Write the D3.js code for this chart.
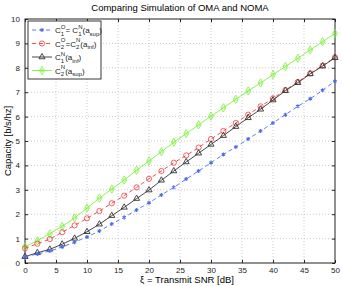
<!DOCTYPE html>
<html>
<head>
<meta charset="utf-8">
<script src="https://cdn.jsdelivr.net/npm/d3@7"></script>
<style>
  body { margin: 0; background: #fff; }
  text { font-family: "Liberation Sans", Arial, sans-serif; }
</style>
</head>
<body>
<div id="chart"></div>
<script>
// transmit SNR in dB
var snr = [0,2,4,6,8,10,12,14,16,18,20,22,24,26,28,30,32,34,36,38,40,42,44,46,48,50];

// capacity values
var c1OMA = [0.26,0.37,0.49,0.66,0.85,1.07,1.31,1.6,1.87,2.17,2.47,2.79,3.1,3.44,3.77,4.11,4.45,4.75,5.08,5.41,5.74,6.08,6.42,6.73,7.08,7.45];
var c2OMA = [0.6,0.79,0.98,1.26,1.54,1.83,2.13,2.45,2.76,3.1,3.45,3.77,4.11,4.41,4.73,5.08,5.41,5.74,6.08,6.42,6.75,7.09,7.42,7.77,8.09,8.43];
var c1Inf = [0.26,0.42,0.56,0.77,1.01,1.28,1.59,1.94,2.28,2.64,2.99,3.39,3.77,4.14,4.5,4.86,5.22,5.59,5.95,6.3,6.68,7.06,7.39,7.75,8.07,8.41];
var c2Sup = [0.67,0.91,1.2,1.5,1.85,2.25,2.66,3.03,3.4,3.8,4.18,4.56,4.95,5.3,5.66,6.02,6.36,6.71,7.05,7.38,7.72,8.05,8.39,8.73,9.07,9.41];

var xTicks = [0,5,10,15,20,25,30,35,40,45,50];
var yTicks = [0,1,2,3,4,5,6,7,8,9,10];

var margin = {top: 19, right: 7, bottom: 23, left: 25},
    width = 342 - margin.left - margin.right,
    height = 286 - margin.top - margin.bottom;

var svg = d3.select("#chart")
  .append("svg")
    .attr("width", 342)
    .attr("height", 286);

var plot = svg.append("g")
    .attr("transform", "translate(" + margin.left + "," + margin.top + ")");

var x = d3.scaleLinear().domain([0, 50]).range([0, width]);
var y = d3.scaleLinear().domain([0, 10]).range([height, 0]);

// dotted grid
plot.append("g")
  .selectAll("line")
  .data(xTicks.slice(1, -1))
  .enter().append("line")
    .attr("x1", function(d) { return x(d); })
    .attr("x2", function(d) { return x(d); })
    .attr("y1", 0).attr("y2", height)
    .attr("stroke", "#bbb").attr("stroke-width", 0.8)
    .attr("stroke-dasharray", "1,2");
plot.append("g")
  .selectAll("line")
  .data(yTicks.slice(1, -1))
  .enter().append("line")
    .attr("y1", function(d) { return y(d); })
    .attr("y2", function(d) { return y(d); })
    .attr("x1", 0).attr("x2", width)
    .attr("stroke", "#bbb").attr("stroke-width", 0.8)
    .attr("stroke-dasharray", "1,2");

// axes with inward ticks
function styleAxis(g) {
  g.selectAll("text").style("font-size", "8px").attr("fill", "#222");
  g.selectAll(".tick line").attr("stroke", "#222");
  g.select(".domain").remove();
}
plot.append("g")
  .attr("transform", "translate(0," + height + ")")
  .call(d3.axisBottom(x).tickValues(xTicks).tickSizeInner(-3).tickSizeOuter(0).tickPadding(4))
  .call(styleAxis);
plot.append("g")
  .call(d3.axisTop(x).tickValues(xTicks).tickSizeInner(-3).tickSizeOuter(0).tickFormat(""))
  .call(styleAxis);
plot.append("g")
  .call(d3.axisLeft(y).tickValues(yTicks).tickSizeInner(-3).tickSizeOuter(0).tickPadding(5))
  .call(styleAxis);
plot.append("g")
  .attr("transform", "translate(" + width + ",0)")
  .call(d3.axisRight(y).tickValues(yTicks).tickSizeInner(-3).tickSizeOuter(0).tickFormat(""))
  .call(styleAxis);

plot.append("rect")
  .attr("width", width).attr("height", height)
  .attr("fill", "none").attr("stroke", "#222").attr("stroke-width", 1);

var series = [
  {values: c2Sup, color: "#7cf03a", dash: null, marker: "diamond"},
  {values: c2OMA, color: "#f03c3c", dash: "4,3", marker: "circle"},
  {values: c1Inf, color: "#333333", dash: null, marker: "triangle"},
  {values: c1OMA, color: "#4a6cf0", dash: "4,3", marker: "star"}
];

var line = d3.line()
  .x(function(d, i) { return x(snr[i]); })
  .y(function(d) { return y(d); });

function drawMarker(g, type, color) {
  if (type === "circle") {
    g.append("circle").attr("r", 2.6).attr("fill", "none").attr("stroke", color).attr("stroke-width", 0.8);
  } else if (type === "diamond") {
    g.append("path").attr("d", d3.symbol().type(d3.symbolDiamond).size(20))
      .attr("fill", "none").attr("stroke", color).attr("stroke-width", 0.8);
    g.append("circle").attr("r", 1.3).attr("fill", "none").attr("stroke", color).attr("stroke-width", 0.6);
  } else if (type === "triangle") {
    g.append("path").attr("d", d3.symbol().type(d3.symbolTriangle).size(16))
      .attr("fill", "none").attr("stroke", color).attr("stroke-width", 0.9);
  } else {
    g.append("path").attr("d", d3.symbol().type(d3.symbolAsterisk).size(11))
      .attr("fill", "none").attr("stroke", color).attr("stroke-width", 1.1);
  }
}

series.forEach(function(s) {
  plot.append("path")
    .datum(s.values)
    .attr("fill", "none")
    .attr("stroke", s.color)
    .attr("stroke-width", 0.9)
    .attr("stroke-dasharray", s.dash)
    .attr("d", line);
  plot.append("g")
    .selectAll("g")
    .data(s.values)
    .enter().append("g")
      .attr("transform", function(d, i) { return "translate(" + x(snr[i]) + "," + y(d) + ")"; })
      .each(function() { drawMarker(d3.select(this), s.marker, s.color); });
});

// legend
var legend = plot.append("g").attr("transform", "translate(3,2)");
legend.append("rect")
  .attr("width", 73).attr("height", 58)
  .attr("fill", "#fff").attr("stroke", "#222").attr("stroke-width", 0.9);

// parts: [text, kind] kind 0 = normal, 1 = subscript, -1 = superscript (stacked over previous subscript)
var legendItems = [
  {s: series[3], parts: [["C",0],["1",1],["O",-1],[" = C",0],["1",1],["N",-1],["(a",0],["sup",1],[")",0]]},
  {s: series[1], parts: [["C",0],["2",1],["O",-1],["=C",0],["2",1],["N",-1],["(a",0],["inf",1],[")",0]]},
  {s: series[2], parts: [["C",0],["1",1],["N",-1],["(a",0],["inf",1],[")",0]]},
  {s: series[0], parts: [["C",0],["2",1],["N",-1],["(a",0],["sup",1],[")",0]]}
];

legendItems.forEach(function(item, k) {
  var cy = 9 + k * 13.5;
  var g = legend.append("g").attr("transform", "translate(0," + cy + ")");
  g.append("line")
    .attr("x1", 4).attr("x2", 24).attr("y1", 0).attr("y2", 0)
    .attr("stroke", item.s.color).attr("stroke-width", 0.9)
    .attr("stroke-dasharray", item.s.dash);
  var m = g.append("g").attr("transform", "translate(14,0)");
  drawMarker(m, item.s.marker, item.s.color);

  var cursor = 27, subStart = cursor, subEnd = cursor;
  item.parts.forEach(function(p) {
    var t = g.append("text").attr("fill", "#222").text(p[0]);
    if (p[1] === 1) {
      t.attr("x", cursor).attr("y", 5.5).style("font-size", "6px");
      subStart = cursor;
      subEnd = cursor + t.node().getComputedTextLength();
      cursor = subEnd;
    } else if (p[1] === -1) {
      t.attr("x", subStart).attr("y", -1.5).style("font-size", "6px");
      cursor = Math.max(subEnd, subStart + t.node().getComputedTextLength());
    } else {
      t.attr("x", cursor).attr("y", 3).style("font-size", "8px");
      cursor += t.node().getComputedTextLength();
    }
  });
});

// title and axis labels
svg.append("text")
  .attr("x", 180).attr("y", 11)
  .attr("text-anchor", "middle")
  .style("font-size", "9.5px")
  .text("Comparing Simulation of OMA and NOMA");

svg.append("text")
  .attr("x", 187).attr("y", 283)
  .attr("text-anchor", "middle")
  .style("font-size", "9.5px")
  .text("\u03be = Transmit SNR [dB]");

svg.append("text")
  .attr("transform", "translate(11," + (margin.top + height / 2) + ") rotate(-90)")
  .attr("text-anchor", "middle")
  .style("font-size", "9.5px")
  .text("Capacity [b/s/hz]");
</script>
</body>
</html>
